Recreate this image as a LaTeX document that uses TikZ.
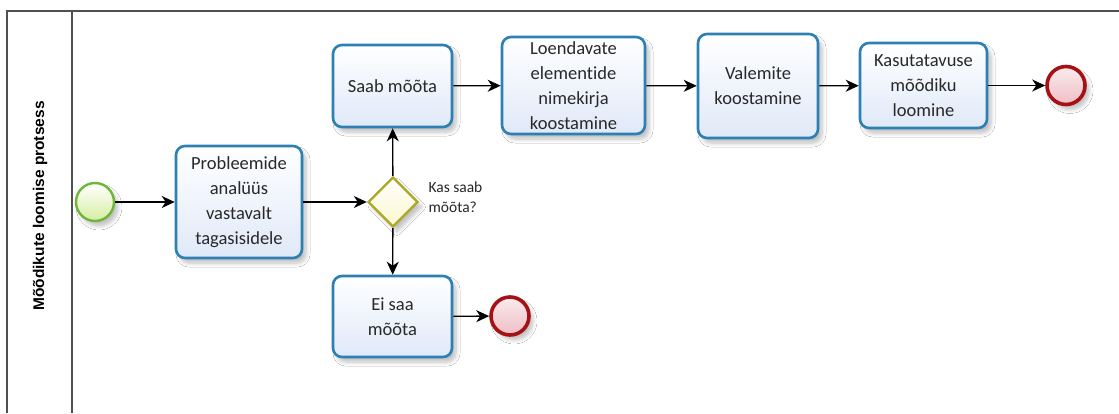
\documentclass[tikz,border=0pt]{standalone}
\usepackage{fontspec}
\setmainfont{Carlito}[Ligatures=NoCommon]
\newfontfamily\lanefont{Liberation Sans}
\usetikzlibrary{shapes.geometric,arrows.meta,shadows.blur}

\definecolor{poolline}{RGB}{80,80,80}
\definecolor{taskline}{RGB}{44,128,180}
\definecolor{taskfill}{RGB}{224,233,248}
\definecolor{startline}{RGB}{110,182,58}
\definecolor{startfill}{RGB}{214,238,160}
\definecolor{endline}{RGB}{165,18,22}
\definecolor{endfill}{RGB}{238,190,196}
\definecolor{gateline}{RGB}{172,168,38}
\definecolor{gatefill}{RGB}{250,247,205}
\definecolor{textgray}{RGB}{40,40,40}

\tikzset{
  softshadow/.style={blur shadow={shadow xshift=4pt, shadow yshift=-5pt, shadow blur steps=6, shadow blur radius=4pt, shadow opacity=25}},
  task/.style={draw=taskline, line width=2.6pt, rounded corners=9pt,
    top color=white, bottom color=taskfill, softshadow,
    inner sep=0pt, align=center, text=textgray,
    font=\fontsize{18.5}{25}\selectfont},
  startevent/.style={circle, draw=startline, line width=2.4pt,
    top color=white, bottom color=startfill, softshadow,
    minimum size=38pt, inner sep=0pt},
  endevent/.style={circle, draw=endline, line width=3.6pt,
    top color=white!70!endfill, bottom color=endfill, softshadow,
    minimum size=38pt, inner sep=0pt},
  gateway/.style={diamond, draw=gateline, line width=2.4pt,
    top color=white, bottom color=gatefill, softshadow,
    minimum width=50pt, minimum height=50pt, inner sep=0pt},
  flow/.style={draw=black, line width=1.3pt,
    -{Stealth[length=13pt, width=12pt, inset=4pt]}},
  pool/.style={draw=poolline, line width=1.6pt}
}

\begin{document}
\begin{tikzpicture}[x=1pt, y=-1pt]
  \useasboundingbox (0,0) rectangle (1119,413);
  \fill[white] (0,0) rectangle (1119,413);

  % pool and lane header
  \draw[pool] (7,413) -- (7,11) -- (1119,11);
  \draw[pool] (72,11) -- (72,413);
  \node[rotate=90, font=\lanefont\bfseries\fontsize{15.5}{18}\selectfont] (lane) at (40,206) {Mõõdikute loomise protsess};

  % events, gateway and tasks
  \node[startevent] (start) at (95,202) {};
  \node[task, minimum width=126pt, minimum height=112pt] (analysis) at (239,202) {Probleemide\\analüüs\\vastavalt\\tagasisidele};
  \node[gateway] (gw) at (393,202) {};
  \node[anchor=west, align=left, text=textgray, font=\fontsize{15.5}{20}\selectfont] (gwlabel) at (425,197) {Kas saab\\mõõta?};

  \node[task, minimum width=119pt, minimum height=82pt] (yes) at (392.5,86) {Saab mõõta};
  \node[task, minimum width=143pt, minimum height=97pt] (list) at (573.5,85.5) {Loendavate\\elementide\\nimekirja\\koostamine};
  \node[task, minimum width=120pt, minimum height=104pt] (formula) at (758,86) {Valemite\\koostamine};
  \node[task, minimum width=127pt, minimum height=85pt] (usab) at (923.5,85.5) {Kasutatavuse\\mõõdiku\\loomine};
  \node[endevent] (endtop) at (1066,85.5) {};

  \node[task, minimum width=119pt, minimum height=81pt] (no) at (392.5,316.5) {Ei saa\\mõõta};
  \node[endevent] (endbottom) at (510,316) {};

  % sequence flows
  \draw[flow] (start) -- (analysis);
  \draw[flow] (analysis) -- (gw);
  \draw[flow] (gw) -- (yes);
  \draw[flow] (gw) -- (no);
  \draw[flow] (yes) -- (list);
  \draw[flow] (list) -- (formula);
  \draw[flow] (formula) -- (usab);
  \draw[flow] (usab) -- (endtop);
  \draw[flow] (no) -- (endbottom);
\end{tikzpicture}
\end{document}
